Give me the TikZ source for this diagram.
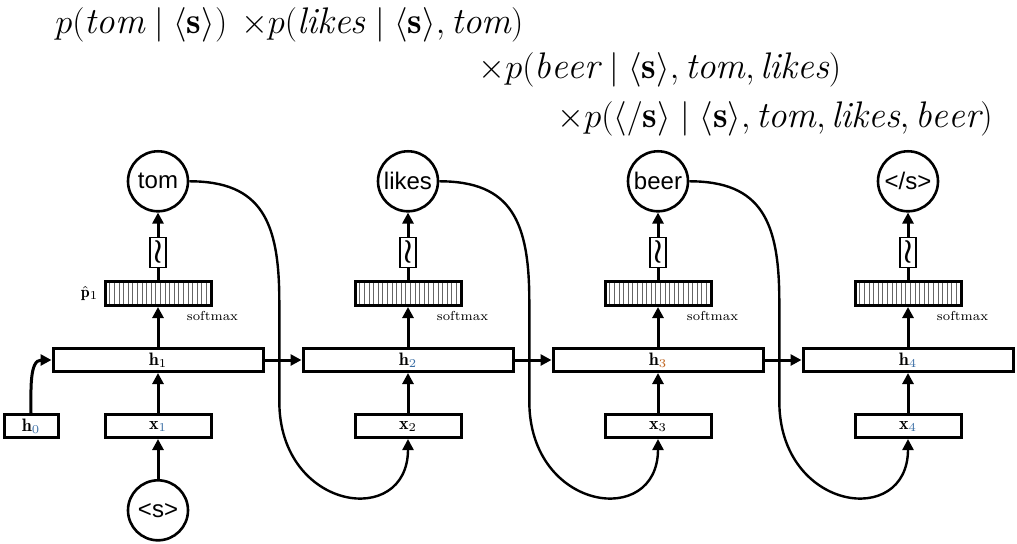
\documentclass[tikz,border=0pt]{standalone}
\usepackage{fontspec}
\setsansfont{Liberation Sans}
\usepackage{amsmath}
\usepackage{graphicx}
\usepackage{tikz}
\usetikzlibrary{positioning, arrows.meta, shadows}
\definecolor{SubBlue}{HTML}{3A6EA5}
\definecolor{SubOrange}{HTML}{C0641E}

\begin{document}
\begin{tikzpicture}[
  x=0.5pt, y=-0.5pt,
  node distance=20pt and 18.5pt,
  hbox/.style={draw, line width=1.5pt, fill=white, inner sep=0pt,
               minimum width=105pt, minimum height=11.5pt,
               font=\fontsize{9}{10}\selectfont,
               drop shadow={shadow xshift=0.7pt, shadow yshift=-0.7pt, opacity=0.3}},
  xbox/.style={hbox, minimum width=53pt},
  smbar/.style={hbox, minimum width=53pt, minimum height=12pt,
                path picture={\foreach \k in {1,...,22}
                  \draw[gray!80!black, line width=0.3pt] ([xshift=\k*2.3pt]path picture bounding box.south west)
                    -- ([xshift=\k*2.3pt]path picture bounding box.north west);}},
  wrbox/.style={draw, line width=0.6pt, fill=white, inner sep=0pt,
                minimum width=8pt, minimum height=15pt},
  word/.style={draw, circle, line width=1.3pt, fill=white, inner sep=0pt,
               minimum size=30pt, font=\sffamily\fontsize{12}{14}\selectfont},
  lbl/.style={font=\fontsize{6.5}{7}\selectfont, inner sep=1pt},
  eqn/.style={anchor=base west, inner sep=0pt, font=\fontsize{18.5}{22}\selectfont},
  arr/.style={-{Triangle[length=5.5pt, width=5.5pt]}, line width=1.5pt},
  link/.style={arr, line width=1.2pt}
]
  \useasboundingbox (0,0) rectangle (1017,543);

  % Product of conditional probabilities
  \node[eqn] (f1) at (55,33) {$p(\mathit{tom}\mid\langle\mathbf{s}\rangle)$};
  \node[eqn] (f2) at ([xshift=6.5pt]f1.base east)
    {$\times p(\mathit{likes}\mid\langle\mathbf{s}\rangle,\mathit{tom})$};
  \node[eqn] (f3) at (478,78)
    {$\times p(\mathit{beer}\mid\langle\mathbf{s}\rangle,\mathit{tom},\mathit{likes})$};
  \node[eqn] (f4) at (557,127)
    {$\times p(\langle/\mathbf{s}\rangle\mid\langle\mathbf{s}\rangle,\mathit{tom},\mathit{likes},\mathit{beer})$};

  % Hidden states
  \node[hbox] (h1) at (158,360) {$\mathbf{h}_{1}$};
  \node[hbox, right=of h1] (h2) {$\mathbf{h}_{\color{SubBlue}2}$};
  \node[hbox, right=of h2] (h3) {$\mathbf{h}_{\color{SubOrange}3}$};
  \node[hbox, right=of h3] (h4) {$\mathbf{h}_{\color{SubBlue}4}$};

  % Inputs
  \node[xbox, below=of h1] (x1) {$\mathbf{x}_{\color{SubBlue}1}$};
  \node[xbox, below=of h2] (x2) {$\mathbf{x}_{2}$};
  \node[xbox, below=of h3] (x3) {$\mathbf{x}_{3}$};
  \node[xbox, below=of h4] (x4) {$\mathbf{x}_{\color{SubBlue}4}$};
  \node[hbox, minimum width=27pt, left=22pt of x1] (h0) {$\mathbf{h}_{\color{SubBlue}0}$};
  \node[word, below=of x1] (bos) {<s>};

  % Softmax layers
  \node[smbar, above=of h1] (p1) {};
  \node[smbar, above=of h2] (p2) {};
  \node[smbar, above=of h3] (p3) {};
  \node[smbar, above=of h4] (p4) {};
  \node[lbl, below=1pt of p1.south east] (sm1) {softmax};
  \node[lbl, below=1pt of p2.south east] (sm2) {softmax};
  \node[lbl, below=1pt of p3.south east] (sm3) {softmax};
  \node[lbl, below=1pt of p4.south east] (sm4) {softmax};
  \node[font=\fontsize{8}{9}\selectfont, inner sep=0pt, left=2.5pt of p1] (phat) {$\hat{\mathbf{p}}_1$};

  % Sampling
  \node[wrbox, above=6pt of p1] (w1) {\scalebox{1.5}[1.7]{$\boldsymbol{\wr}$}};
  \node[wrbox, above=6pt of p2] (w2) {\scalebox{1.5}[1.7]{$\boldsymbol{\wr}$}};
  \node[wrbox, above=6pt of p3] (w3) {\scalebox{1.5}[1.7]{$\boldsymbol{\wr}$}};
  \node[wrbox, above=6pt of p4] (w4) {\scalebox{1.5}[1.7]{$\boldsymbol{\wr}$}};

  % Output words
  \node[word, above=12pt of w1] (tom)   {tom};
  \node[word, above=12pt of w2] (likes) {likes};
  \node[word, above=12pt of w3] (beer)  {beer};
  \node[word, above=12pt of w4] (eos)   {</s>};

  % Vertical flow
  \draw[arr] (bos) -- (x1);
  \draw[arr] (x1) -- (h1);
  \draw[arr] (x2) -- (h2);
  \draw[arr] (x3) -- (h3);
  \draw[arr] (x4) -- (h4);
  \draw[arr] (h1) -- (p1);
  \draw[arr] (h2) -- (p2);
  \draw[arr] (h3) -- (p3);
  \draw[arr] (h4) -- (p4);
  \draw[line width=1.5pt] (p1) -- (w1);
  \draw[line width=1.5pt] (p2) -- (w2);
  \draw[line width=1.5pt] (p3) -- (w3);
  \draw[line width=1.5pt] (p4) -- (w4);
  \draw[arr] (w1) -- (tom);
  \draw[arr] (w2) -- (likes);
  \draw[arr] (w3) -- (beer);
  \draw[arr] (w4) -- (eos);

  % Recurrence
  \draw[arr] (h0.north) to[out=90, in=180] (h1.west);
  \draw[arr] (h1) -- (h2);
  \draw[arr] (h2) -- (h3);
  \draw[arr] (h3) -- (h4);

  % Feed sampled word back as next input
  \draw[link] (tom.east) .. controls +(72,0) and +(0,-80) .. ++(90,120)
    -- ++(0,100) .. controls +(0,110) and +(0,90) .. (x2.south);
  \draw[link] (likes.east) .. controls +(72,0) and +(0,-80) .. ++(90,120)
    -- ++(0,100) .. controls +(0,110) and +(0,90) .. (x3.south);
  \draw[link] (beer.east) .. controls +(72,0) and +(0,-80) .. ++(90,120)
    -- ++(0,100) .. controls +(0,110) and +(0,90) .. (x4.south);
\end{tikzpicture}
\end{document}
